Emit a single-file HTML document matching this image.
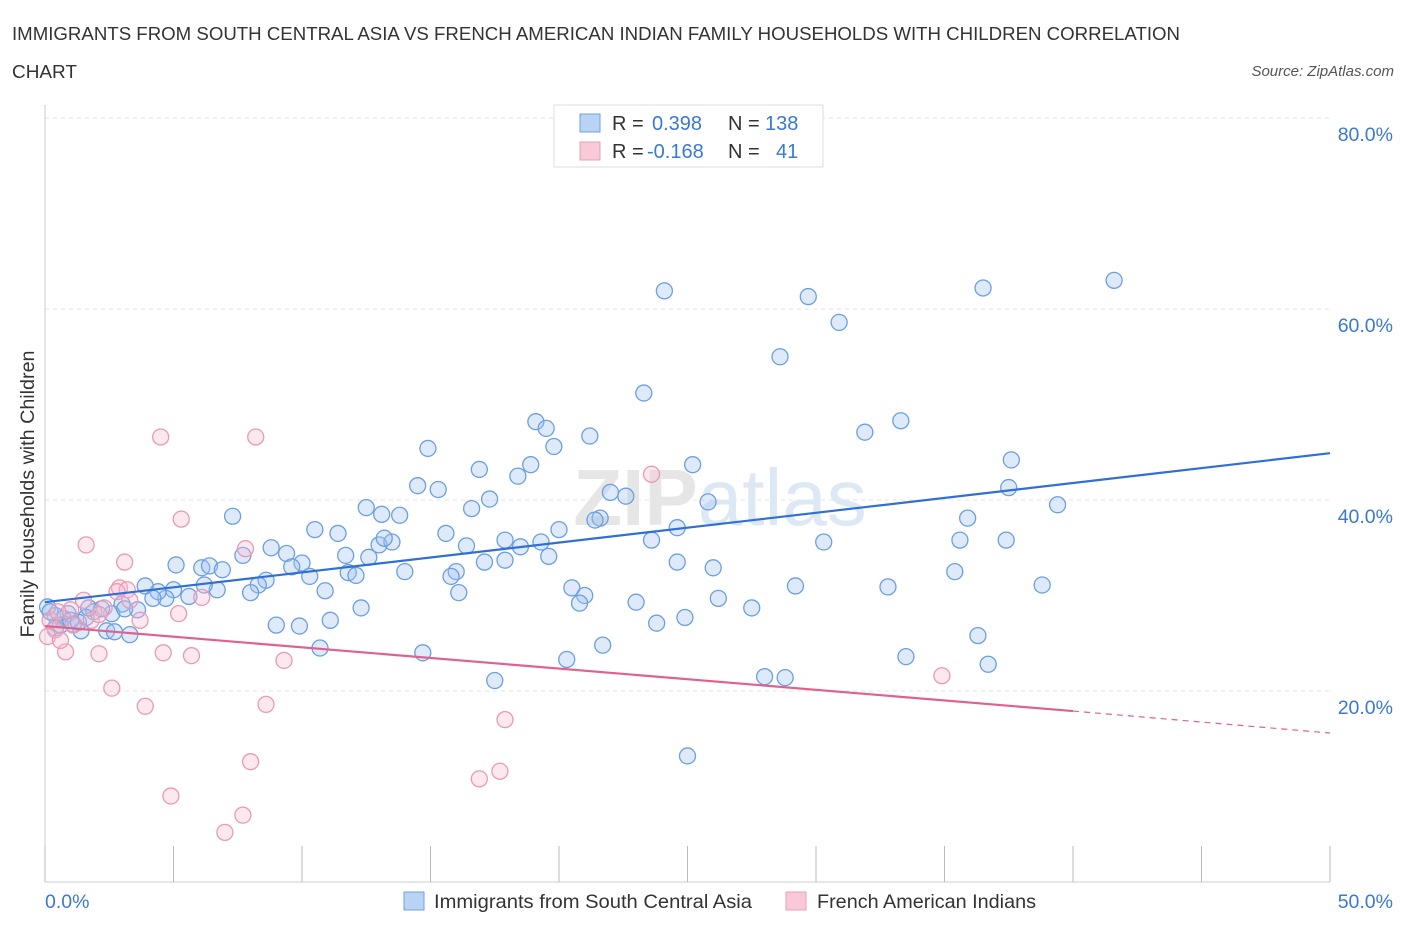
<!DOCTYPE html>
<html><head><meta charset="utf-8"><style>
body{margin:0;background:#fff;font-family:"Liberation Sans",sans-serif;}
svg text{font-family:"Liberation Sans",sans-serif;}
</style></head><body>
<svg id="chart" width="1406" height="930" xmlns="http://www.w3.org/2000/svg">
<text x="12" y="40" font-size="18.5" fill="#333" textLength="1168" lengthAdjust="spacingAndGlyphs">IMMIGRANTS FROM SOUTH CENTRAL ASIA VS FRENCH AMERICAN INDIAN FAMILY HOUSEHOLDS WITH CHILDREN CORRELATION</text>
<text x="12" y="78" font-size="18.5" fill="#333" textLength="65" lengthAdjust="spacingAndGlyphs">CHART</text>
<text x="1394" y="76" font-size="15" fill="#555" font-style="italic" text-anchor="end">Source: ZipAtlas.com</text>
<g id="grid"></g>
<text x="720" y="525" font-size="80" fill="#e6e6e6" text-anchor="middle" font-weight="bold">ZIP<tspan font-weight="normal" fill="#dde8f5">atlas</tspan></text>
<g id="marks"></g>
<text transform="translate(34,494) rotate(-90)" font-size="19" fill="#333" text-anchor="middle" textLength="287" lengthAdjust="spacingAndGlyphs">Family Households with Children</text>
<g>
<rect x="554" y="105" width="269" height="62" fill="#fff" stroke="#ddd"/>
<rect x="580" y="114" width="20" height="18" fill="#b9d3f5" stroke="#6fa0e0"/>
<rect x="580" y="142" width="20" height="18" fill="#f9c9d7" stroke="#e8a0b8"/>
<text x="612" y="130" font-size="20" fill="#333">R = <tspan fill="#3a78d6" x="652">0.398</tspan><tspan x="728">N = </tspan><tspan fill="#3a78d6" x="765">138</tspan></text>
<text x="612" y="158" font-size="20" fill="#333">R = <tspan fill="#3a78d6" x="647">-0.168</tspan><tspan x="728">N = </tspan><tspan fill="#3a78d6" x="776">41</tspan></text>
</g>
<g>
<rect x="404" y="892" width="20" height="18" fill="#b9d3f5" stroke="#6fa0e0"/>
<text x="434" y="908" font-size="19.5" fill="#333" textLength="318" lengthAdjust="spacingAndGlyphs">Immigrants from South Central Asia</text>
<rect x="786" y="892" width="20" height="18" fill="#f9c9d7" stroke="#e8a0b8"/>
<text x="817" y="908" font-size="19.5" fill="#333" textLength="219" lengthAdjust="spacingAndGlyphs">French American Indians</text>
</g>
</svg>
<script>
const blueX=[24.1,29.7,36.5,41.6,30.9,28.6,23.3,33.3,31.9,14.9,19.1,19.5,19.8,21.2,25.2,37.6,16.9,18.9,18.4,14.5,15.3,17.3,16.6,22.0,22.6,37.5,39.4,25.8,7.3,11.4,12.5,13.1,13.8,10.5,15.6,20.0,21.6,21.4,24.6,35.9,35.6,37.4,30.3,23.6,19.3,18.5,17.9,16.4,13.0,13.5,13.2,11.7,12.6,9.4,8.8,7.7,10.0,9.6,5.1,6.1,6.4,6.9,11.8,12.1,14.0,16.0,15.8,17.1,17.9,19.6,24.6,26.0,35.4,38.8,32.8,29.2,20.5,21.0,20.8,23.0,26.2,27.5,24.9,23.8,16.1,12.3,11.1,10.9,10.3,8.6,8.3,8.0,6.7,6.2,5.6,5.0,4.7,4.4,3.9,4.2,3.0,3.6,2.6,1.9,1.6,2.2,0.9,0.7,0.4,0.1,0.4,1.1,1.4,2.4,2.7,3.3,9.0,9.9,10.7,14.7,21.7,20.3,17.5,28.0,28.8,36.3,36.7,33.5,25.0,0.2,0.6,1.0,1.3,1.7,3.1];
const blueY=[61.9,61.3,62.2,63.0,58.6,55.0,51.2,48.3,47.1,45.4,48.2,47.5,45.6,46.7,43.7,44.2,43.2,43.7,42.5,41.5,41.1,40.1,39.1,40.8,40.4,41.3,39.5,39.8,38.3,36.5,39.2,38.5,38.4,36.9,36.5,36.9,38.1,37.9,37.1,38.1,35.8,35.8,35.6,35.8,35.6,35.1,35.8,35.2,35.3,35.6,36.0,34.2,34.0,34.4,35.0,34.2,33.4,33.0,33.2,32.9,33.1,32.7,32.4,32.1,32.5,32.5,32.0,33.5,33.7,34.1,33.5,32.9,32.5,31.1,30.9,31.0,30.8,30.0,29.2,29.3,29.7,28.7,27.7,27.1,30.3,28.7,27.4,30.5,32.0,31.6,31.1,30.3,30.6,31.1,29.9,30.6,29.7,30.4,31.0,29.7,29.1,28.5,28.1,28.3,27.7,28.6,28.1,27.6,27.9,28.8,26.6,27.0,26.3,26.3,26.2,25.9,26.9,26.8,24.5,24.0,24.8,23.3,21.1,21.5,21.4,25.8,22.8,23.6,13.2,28.3,26.9,27.4,27.2,28.7,28.6];
const pinkX=[4.5,8.2,5.3,1.6,3.1,7.8,2.9,3.2,2.8,6.1,2.3,1.5,3.7,5.2,2.1,0.8,4.6,5.7,9.3,2.6,3.9,8.6,8.0,4.9,7.7,7.0,16.9,17.7,17.9,23.6,34.9,0.4,0.1,0.6,1.1,0.2,1.8,1.0,3.3,2.1,0.5];
const pinkY=[46.6,46.6,38.0,35.3,33.5,34.9,30.8,30.6,30.4,29.8,28.7,29.5,27.4,28.1,23.9,24.1,24.0,23.7,23.2,20.3,18.4,18.6,12.6,9.0,7.0,5.2,10.8,11.6,17.0,42.7,21.6,26.4,25.7,25.3,26.9,27.4,27.4,28.5,29.5,28.0,28.3];
const blueTrend=[0,29.3,50,44.9];
const pinkTrend=[0,26.8,40,17.9,50,15.6];
const yTicks=[20,40,60,80];
const xTicks=[0,5,10,15,20,25,30,35,40,45,50];
const NS='http://www.w3.org/2000/svg';
const X=v=>45+v*25.7, Y=v=>882-v*9.55;
function mk(t,a,p){const e=document.createElementNS(NS,t);for(const k in a)e.setAttribute(k,a[k]);p.appendChild(e);return e;}
const grid=document.getElementById('grid'),marks=document.getElementById('marks');
yTicks.forEach(v=>{
 const l=mk('line',{x1:45,x2:1330,y1:Y(v),y2:Y(v),stroke:'#e3e3e3','stroke-dasharray':'4,4'},grid);
 
 
 const t=mk('text',{x:1393,y:Y(v)+23,'font-size':19.5,fill:'#3a78d6','text-anchor':'end'},grid);
 t.textContent=v.toFixed(1)+'%';
 
 
});
const ax=mk('line',{x1:45,x2:1330,y1:882,y2:882,stroke:'#ccc'},grid);


const ay=mk('line',{x1:45,x2:45,y1:105,y2:882,stroke:'#ccc'},grid);


xTicks.forEach(v=>{
 const l=mk('line',{x1:X(v),x2:X(v),y1:846,y2:882,stroke:'#bbb'},grid);
 
 
});
[[0,'start',45],[50,'end',1393]].forEach(([v,a,x])=>{
 const t=mk('text',{x:x,y:908,'font-size':19.5,fill:'#3a78d6','text-anchor':a},grid);
 t.textContent=v.toFixed(1)+'%';
 
 
});
blueX.forEach((x,i)=>{
 const c=mk('circle',{cx:X(x),cy:Y(blueY[i]),r:8,fill:'rgba(160,195,240,0.35)',stroke:'#6b9fe0','stroke-width':1.3},marks);
 
 
});
pinkX.forEach((x,i)=>{
 const c=mk('circle',{cx:X(x),cy:Y(pinkY[i]),r:8,fill:'rgba(248,190,210,0.35)',stroke:'#e89ab5','stroke-width':1.3},marks);
 
 
});
const bt=mk('line',{x1:X(blueTrend[0]),y1:Y(blueTrend[1]),x2:X(blueTrend[2]),y2:Y(blueTrend[3]),stroke:'#2f6fd6','stroke-width':2.2},marks);


const pt=mk('line',{x1:X(pinkTrend[0]),y1:Y(pinkTrend[1]),x2:X(pinkTrend[2]),y2:Y(pinkTrend[3]),stroke:'#e0608f','stroke-width':2.2},marks);


const pd=mk('line',{x1:X(pinkTrend[2]),y1:Y(pinkTrend[3]),x2:X(pinkTrend[4]),y2:Y(pinkTrend[5]),stroke:'#e0608f','stroke-width':1.2,'stroke-dasharray':'6,5'},marks);


</script>
</body></html>
